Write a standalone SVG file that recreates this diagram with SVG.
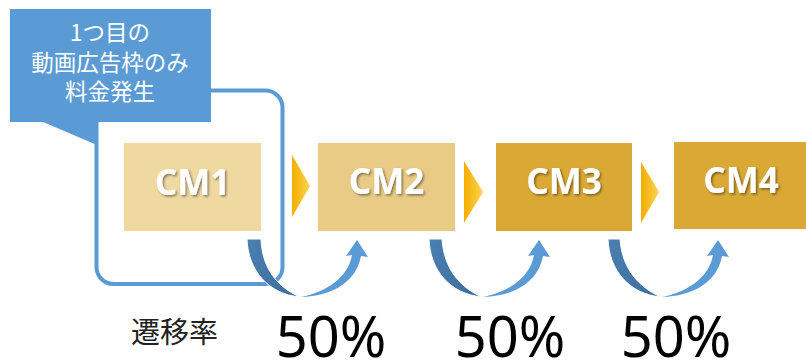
<svg xmlns="http://www.w3.org/2000/svg" width="806" height="361" viewBox="0 0 806 361">
<defs>
<linearGradient id="chev" x1="0" y1="0" x2="1" y2="0">
<stop offset="0" stop-color="#f0ae00"/>
<stop offset="1" stop-color="#ffd34f"/>
</linearGradient>
<linearGradient id="dark" x1="0" y1="0" x2="1" y2="1">
<stop offset="0" stop-color="#4a7fb0"/>
<stop offset="1" stop-color="#3c6e9e"/>
</linearGradient>
<filter id="sh" x="-20%" y="-20%" width="140%" height="140%">
<feDropShadow dx="1.5" dy="1.5" stdDeviation="1" flood-color="#000" flood-opacity="0.45"/>
</filter>
</defs>
<style>
.cm{font-family:"Noto Sans","DejaVu Sans",sans-serif;font-weight:bold;font-size:35px;fill:#fff;text-anchor:middle;filter:url(#sh)}
.call{font-family:"Noto Sans CJK JP","Noto Sans",sans-serif;font-size:22.5px;fill:#fff;text-anchor:middle}
.pct{font-family:"Noto Sans","DejaVu Sans",sans-serif;font-size:56px;fill:#000;text-anchor:middle}
.lab{font-family:"Noto Sans CJK JP",sans-serif;font-size:29px;fill:#222}
.chev{fill:url(#chev)}
.dk{fill:url(#dark);stroke:#fff;stroke-width:1}
.lt{fill:#5b9bd5}
</style>
<rect width="806" height="361" fill="#fff"/>
<g id="frame">
<rect x="96.5" y="90.5" width="186" height="193.5" rx="17" fill="none" stroke="#5b9bd5" stroke-width="4"/>
</g>
<g id="callout">
<path d="M10,9 H211 V122 H97 V145 L43,122 H10 Z" fill="#5b9bd5"/>
<text class="call" x="110" y="41">1つ目の</text>
<text class="call" x="110" y="71">動画広告枠のみ</text>
<text class="call" x="110" y="100">料金発生</text>
</g>
<g id="cm1">
<rect x="124" y="143" width="137" height="88" fill="#f0d9a1"/>
<text class="cm" x="192.5" y="195">CM1</text>
</g>
<g id="cm2">
<rect x="318" y="143" width="137" height="88" fill="#e9cb86"/>
<text class="cm" x="386.5" y="194">CM2</text>
</g>
<g id="cm3">
<rect x="496" y="143" width="136" height="88" fill="#daa935"/>
<text class="cm" x="564" y="194">CM3</text>
</g>
<g id="cm4">
<rect x="674" y="142" width="132" height="87" fill="#daa935"/>
<text class="cm" x="741" y="193">CM4</text>
</g>
<g id="connectors">
<polygon class="chev" points="292,155 310,186 292,217"/>
<polygon class="chev" points="464,161 483,192 464,223"/>
<polygon class="chev" points="641,162 659,192 641,223"/>
<g id="flow1">
<path class="dk" d="M247,239 C248,270 268,294 300,297 C277,287 262,268 261,239 Z"/>
<path class="lt" d="M301,297 C326,292 348,278 352,255 L346,256 L357,240 L368,257 L361,256 C356,283 331,296 301,297 Z"/>
</g>
<g id="flow2">
<path class="dk" d="M429,239 C430,270 450,294 482,297 C459,287 444,268 442,239 Z"/>
<path class="lt" d="M483,297 C508,292 530,278 534,255 L528,256 L539,240 L550,257 L543,256 C538,283 513,296 483,297 Z"/>
</g>
<g id="flow3">
<path class="dk" d="M608,239 C609,270 629,294 661,297 C638,287 622,268 620,239 Z"/>
<path class="lt" d="M662,297 C687,292 709,278 713,255 L707,256 L718,240 L729,257 L722,256 C717,283 692,296 662,297 Z"/>
</g>
</g>
<g id="labels">
<text class="lab" x="131" y="343">遷移率</text>
<text class="pct" x="331" y="357">50%</text>
<text class="pct" x="510" y="357">50%</text>
<text class="pct" x="676" y="357">50%</text>
</g>
</svg>
